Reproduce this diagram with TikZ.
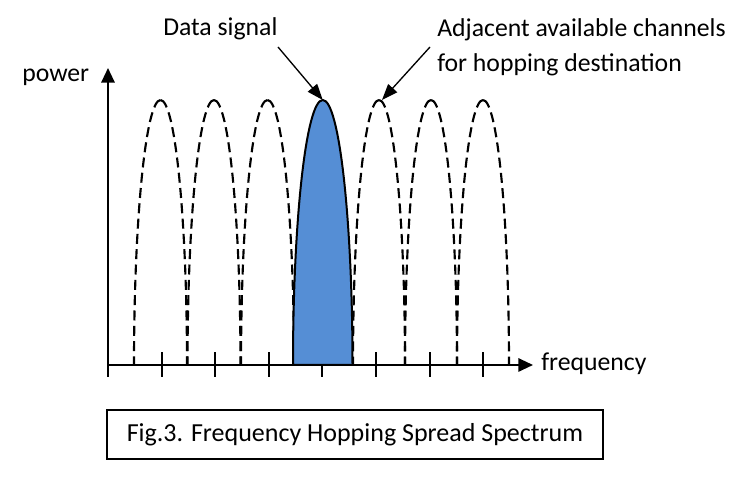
\documentclass[tikz,border=0pt]{standalone}
\usepackage{fontspec}
\setmainfont{Carlito}
\usepackage{xcolor}
\usetikzlibrary{arrows.meta, positioning}
\definecolor{sigfill}{RGB}{85, 142, 213}

\begin{document}
\begin{tikzpicture}[x=0.75pt, y=0.75pt,
		lbl/.style={font=\fontsize{19.3}{20}\selectfont, inner sep=0pt},
		axis/.style={line width=1.5pt, -{Triangle[length=11pt, width=10pt]}},
		lobe/.style={line width=1.6pt, dash pattern=on 7.5pt off 4pt},
		note/.style={line width=1pt, -{Triangle[length=12pt, width=9pt]}}]
	
	\useasboundingbox (0,0) rectangle (744,498);
	
	\foreach \i in {1,...,7}
		\draw[line width=1.5pt] ({108+53.6*\i},121) -- ({108+53.6*\i},146);
	
	\foreach \c/\a in {160.5/26.5, 214/26.5, 267.5/26.5, 379/26, 431/26, 483/26} {
		\draw[lobe] (\c,398) arc[start angle=90, end angle=180, x radius=\a, y radius=265];
		\draw[lobe] (\c,398) arc[start angle=90, end angle=0, x radius=\a, y radius=265];
	}
	
	\draw[line width=1.5pt, fill=sigfill] (293,133) arc[start angle=180, end angle=0, x radius=29.75, y radius=265] -- cycle;
	
	\coordinate (o) at (108,133);
	\coordinate (ybot) at (108,121);
	\coordinate (ytop) at (108,430);
	\coordinate (xend) at (533,133);
	\draw[axis] (ybot) -- (ytop);
	\draw[axis] (o) -- (xend);
	
	\node[lbl, anchor=base west] (powlbl) at (22,416) {power};
	\node[lbl, anchor=base west] (freqlbl) at (541,127) {frequency};
	\node[lbl, anchor=base west] (sig) at (163,462) {Data signal};
	\node[lbl, anchor=base west] (adj) at (437,461.5) {Adjacent available channels};
	\node[lbl, anchor=base west] (adj2) at (437,426.5) {for hopping destination};
	
	\coordinate (sigtail) at (278,451);
	\coordinate (sigpeak) at (322.75,398);
	\coordinate (adjtail) at (430,451);
	\coordinate (adjpeak) at (382,398);
	\draw[note] (sigtail) -- (sigpeak);
	\draw[note] (adjtail) -- (adjpeak);
	
	\node[draw, line width=1.1pt, minimum width=372pt, minimum height=36.75pt,
		font=\fontsize{19.5}{22}\selectfont] (cap) at (355,63.5)
		{Fig.3. Frequency Hopping Spread Spectrum};
\end{tikzpicture}
\end{document}
